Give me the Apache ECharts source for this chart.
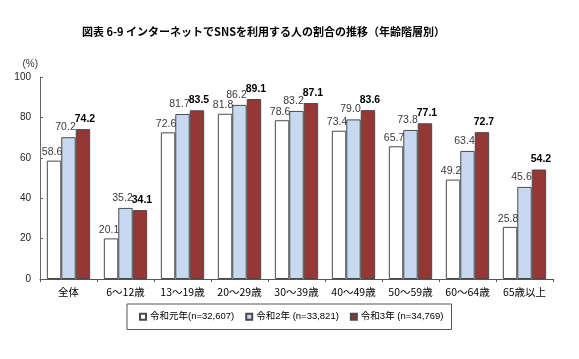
<!DOCTYPE html>
<html><head><meta charset="utf-8">
<script src="https://cdn.jsdelivr.net/npm/echarts@6/dist/echarts.min.js"></script>
<style>html,body{margin:0;padding:0;background:#fff}#c{width:579px;height:359px}</style>
</head><body><div id="c"></div>
<script>
const titleText = '図表 6-9 インターネットでSNSを利用する人の割合の推移（年齢階層別）';
const categories = ['全体', '6～12歳', '13～19歳', '20～29歳', '30～39歳', '40～49歳', '50～59歳', '60～64歳', '65歳以上'];
const seriesNames = ['令和元年(n=32,607)', '令和2年 (n=33,821)', '令和3年 (n=34,769)'];
const r1 = [58.6, 20.1, 72.6, 81.8, 78.6, 73.4, 65.7, 49.2, 25.8];
const r2 = [70.2, 35.2, 81.7, 86.2, 83.2, 79.0, 73.8, 63.4, 45.6];
const r3 = [74.2, 34.1, 83.5, 89.1, 87.1, 83.6, 77.1, 72.7, 54.2];
const yTicks = [0, 20, 40, 60, 80, 100];

const jp = '"Noto Sans CJK JP", sans-serif';
const num = '"Liberation Sans", "Noto Sans CJK JP", sans-serif';
const chart = echarts.init(document.getElementById('c'), null, {renderer: 'canvas'});
const colors = ['#ffffff', '#c6d9f1', '#953735'];
const offsets = [[-2, 0], [-3, 0], [2, 0]];
function mk(i, data, bold) {
  return {
    name: seriesNames[i], type: 'bar', data: data,
    barGap: '0%', barCategoryGap: '24%',
    itemStyle: {color: colors[i], borderColor: '#4a4a4a', borderWidth: 1},
    label: {show: true, position: 'top', distance: i === 0 ? 3 : 5, fontFamily: num, fontSize: 10.5,
      fontWeight: bold ? 'bold' : 'normal', color: bold ? '#000' : '#3a3a3a',
      offset: offsets[i],
      formatter: p => p.value.toFixed(1)}
  };
}
chart.setOption({
  animation: false,
  title: {text: titleText, left: 77, top: 21, textStyle: {fontFamily: jp, fontSize: 11, fontWeight: 'bold', color: '#000'}},
  grid: {left: 40, right: 26, top: 77, bottom: 80},
  legend: {
    left: 127, top: 304, padding: [8, 8, 8, 12], borderColor: '#555', borderWidth: 1,
    itemWidth: 6, itemHeight: 6, itemGap: 11, icon: 'rect',
    textStyle: {fontFamily: num, fontSize: 9.5, color: '#000', padding: [0, 0, 0, -1]},
    data: seriesNames
  },
  xAxis: {
    type: 'category', data: categories,
    axisLine: {lineStyle: {color: '#555', width: 1}},
    axisTick: {show: true, length: 3, lineStyle: {color: '#555'}},
    axisLabel: {fontFamily: jp, fontSize: 10.5, color: '#000', margin: 8, interval: 0}
  },
  yAxis: {
    type: 'value', min: 0, max: 100, interval: 20,
    name: '(%)', nameLocation: 'end', nameGap: 8,
    nameTextStyle: {fontFamily: num, fontSize: 10, color: '#333', align: 'right', padding: [0, 2, 0, 0]},
    axisLine: {show: true, lineStyle: {color: '#666', width: 1}},
    axisTick: {show: true, inside: true, length: 3, lineStyle: {color: '#666'}},
    splitLine: {show: false},
    axisLabel: {fontFamily: num, fontSize: 10, color: '#222', margin: 9,
      formatter: v => yTicks.includes(v) ? String(v) : ''}
  },
  series: [mk(0, r1, false), mk(1, r2, false), mk(2, r3, true)]
});
</script></body></html>
